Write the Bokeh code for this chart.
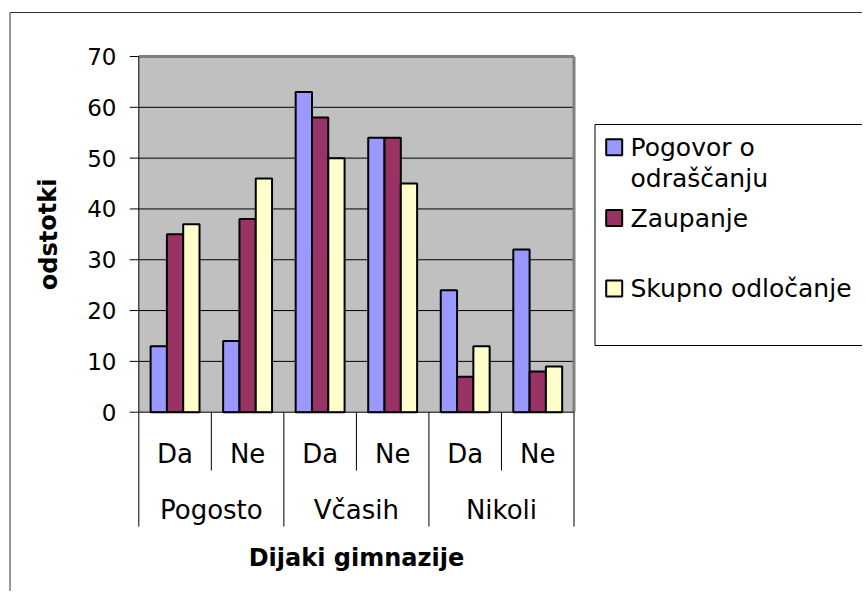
from bokeh.plotting import figure
from bokeh.models import Range1d
from bokeh.core.properties import value
from bokeh.embed import file_html
from bokeh.resources import INLINE

# ---- data ----
groups = ["Pogosto", "Včasih", "Nikoli"]
answers = ["Da", "Ne"]
series_names = ["Pogovor o odraščanju", "Zaupanje", "Skupno odločanje"]
legend_lines = [["Pogovor o", "odraščanju"], [" Zaupanje"], ["Skupno odločanje"]]
pogovor = [13, 14, 63, 54, 24, 32]
zaupanje = [35, 38, 58, 54, 7, 8]
skupno = [37, 46, 50, 45, 13, 9]
y_ticks = [0, 10, 20, 30, 40, 50, 60, 70]
x_title = "Dijaki gimnazije"
y_title = "odstotki"
colors = ["#9999FF", "#993366", "#FFFFCC"]

# ---- layout (pixels inside the figure) ----
W, H = 862, 591
PL, PR = 138.3, 573.5      # plot area left/right
PT, PB = 56.0, 411.7       # plot area top/bottom
NCAT = len(groups) * len(answers)
YMAX = y_ticks[-1]
xs = (PR - PL) / NCAT
ys = (PB - PT) / YMAX

def X(px):
    return (px - PL) / xs

def Y(py):
    return (PB - py) / ys

FONT = value("DejaVu Sans")

p = figure(width=W, height=H, output_backend="svg", toolbar_location=None,
           x_range=Range1d(X(0), X(W)), y_range=Range1d(Y(H), Y(0)),
           min_border=0, min_border_left=0, min_border_right=0,
           min_border_top=0, min_border_bottom=0)
p.axis.visible = False
p.grid.visible = False
p.outline_line_color = None
p.background_fill_color = "white"
p.border_fill_color = "white"

# outer chart border (left and top only visible)
p.segment(x0=[X(9.5), X(9.5)], y0=[Y(12), Y(12)], x1=[X(9.5), X(W + 20)], y1=[Y(H + 20), Y(12)],
          line_color="#333333", line_width=1)

# plot background
p.quad(left=[0], right=[NCAT], bottom=[0], top=[YMAX], fill_color="#C0C0C0", line_color=None)

# gridlines
grid_vals = [t for t in y_ticks if 0 < t < YMAX]
p.segment(x0=[0] * len(grid_vals), x1=[NCAT] * len(grid_vals), y0=grid_vals, y1=grid_vals,
          line_color="black", line_width=1)
# grey frame on top and right
p.segment(x0=[0, NCAT], x1=[NCAT, NCAT], y0=[YMAX, YMAX], y1=[YMAX, 0],
          line_color="#808080", line_width=3)

# bars
bw = 16.3 / xs
offsets = [-bw, 0, bw]
for vals, col, off in zip([pogovor, zaupanje, skupno], colors, offsets):
    p.vbar(x=[i + 0.5 + off for i in range(NCAT)], top=vals, bottom=0, width=bw,
           fill_color=col, line_color="black", line_width=2)

# y axis line and ticks
tick_len = 9 / xs
p.segment(x0=[0], x1=[0], y0=[0], y1=[YMAX], line_color="black", line_width=1)
p.segment(x0=[-tick_len] * len(y_ticks), x1=[0] * len(y_ticks), y0=y_ticks, y1=y_ticks,
          line_color="black", line_width=1)
p.segment(x0=[0], x1=[NCAT], y0=[0], y1=[0], line_color="black", line_width=1)
p.text(x=[X(116)] * len(y_ticks), y=y_ticks, text=[str(t) for t in y_ticks],
       text_font=FONT, text_font_size=value("23px"), text_align="right",
       text_baseline="middle", text_color="black")

# category separators
inner_y = Y(470)
outer_y = Y(526)
sep_x = list(range(NCAT + 1))
sep_bottom = [outer_y if i % len(answers) == 0 else inner_y for i in sep_x]
p.segment(x0=sep_x, x1=sep_x, y0=[0] * len(sep_x), y1=sep_bottom, line_color="black", line_width=1)

# category labels
p.text(x=[i + 0.5 for i in range(NCAT)], y=[Y(453)] * NCAT,
       text=[answers[i % len(answers)] for i in range(NCAT)],
       text_font=FONT, text_font_size=value("26px"), text_align="center",
       text_baseline="middle", text_color="black")
p.text(x=[g * len(answers) + len(answers) / 2 for g in range(len(groups))], y=[Y(509)] * len(groups),
       text=groups, text_font=FONT, text_font_size=value("26px"), text_align="center",
       text_baseline="middle", text_color="black")

# axis titles
p.text(x=[NCAT / 2], y=[Y(557)], text=[x_title], text_font=FONT, text_font_size=value("24px"),
       text_font_style="bold", text_align="center", text_baseline="middle", text_color="black")
p.text(x=[X(48)], y=[YMAX / 2], text=[y_title], text_font=FONT, text_font_size=value("24px"),
       text_font_style="bold", text_align="center", text_baseline="middle", angle=1.5708,
       text_color="black")

# legend
p.quad(left=[X(594.5)], right=[X(W + 50)], top=[Y(124)], bottom=[Y(345)],
       fill_color="white", line_color="black", line_width=1)
sq_y = [Y(146.7), Y(217.5), Y(288)]
p.rect(x=[X(613.7)] * 3, y=sq_y, width=16, height=16, width_units="screen",
       height_units="screen", fill_color=colors, line_color="black", line_width=2)
line_gap = 31 / ys
for lines, yy in zip(legend_lines, sq_y):
    p.text(x=[X(630)] * len(lines), y=[yy - k * line_gap for k in range(len(lines))], text=lines,
           text_font=FONT, text_font_size=value("25px"), text_align="left",
           text_baseline="middle", text_color="black")

open("out.html", "w").write(file_html(p, INLINE))
